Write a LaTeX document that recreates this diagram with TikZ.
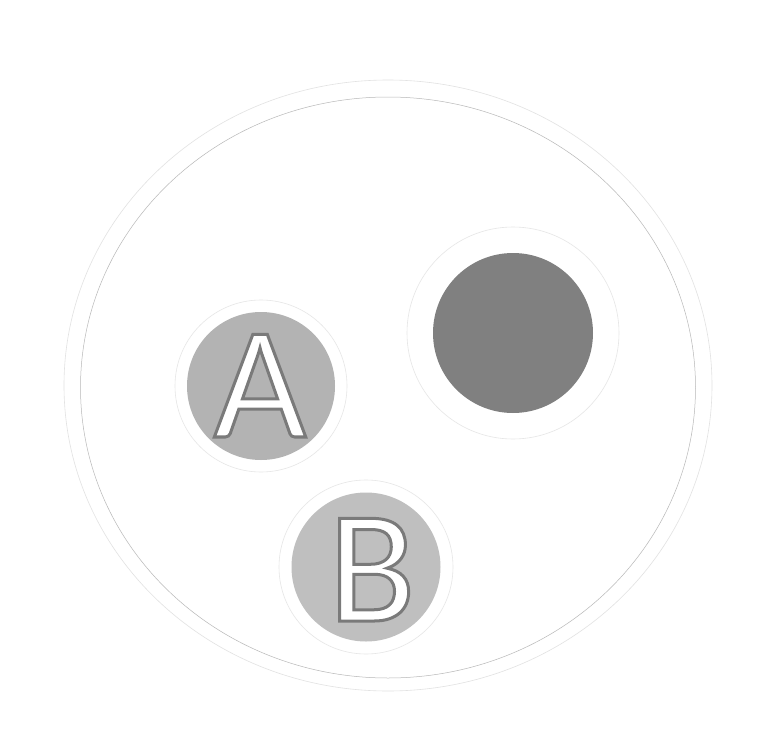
\documentclass[tikz,border=0pt]{standalone}
\usepackage{fontspec}
\setsansfont{Carlito}
\definecolor{outerline}{HTML}{E2E2E2}
\definecolor{innerline}{HTML}{B8B8B8}
\definecolor{ringline}{HTML}{E6E6E6}
\definecolor{discA}{HTML}{B3B3B3}
\definecolor{discB}{HTML}{BFBFBF}
\definecolor{discDark}{HTML}{808080}
\newcommand\outlinedtext[1]{\color{white}\special{pdf:literal direct 2 Tr 3 w 0.48 G}#1\special{pdf:literal direct 0 Tr}}
\tikzset{
  ring/.style={circle, draw=ringline, line width=0.6pt, fill=white, inner sep=0pt},
  disc/.style={circle, inner sep=0pt, draw=none},
  letter/.style={inner sep=0pt, font=\sffamily\fontsize{160}{160}\selectfont}
}
\begin{document}
\begin{tikzpicture}[x=1pt,y=-1pt]
\useasboundingbox (0,0) rectangle (764,742);
\fill[white] (0,0) rectangle (764,742);
% big ellipses
\draw[outerline, line width=0.6pt] (388,385.5) ellipse [x radius=324, y radius=305.5];
\draw[innerline, line width=0.5pt] (388,387.5) ellipse [x radius=307.5, y radius=290.5];
% rings
\node[ring, minimum size=172pt] (ringA) at (261,386) {};
\node[ring, minimum size=212pt] (ringD) at (513,333) {};
\node[ring, minimum size=174pt] (ringB) at (366,567) {};
% discs
\node[disc, fill=discA, minimum size=148pt] (discA) at (ringA.center) {};
\node[disc, fill=discDark, minimum size=160pt] (discD) at (ringD.center) {};
\node[disc, fill=discB, minimum size=149pt] (discB) at (ringB.center) {};
% letters
\node[letter, anchor=base] (letA) at (260,437) {\outlinedtext{A}};
\node[letter, anchor=base] (letB) at (372,621) {\outlinedtext{B}};
\end{tikzpicture}
\end{document}
